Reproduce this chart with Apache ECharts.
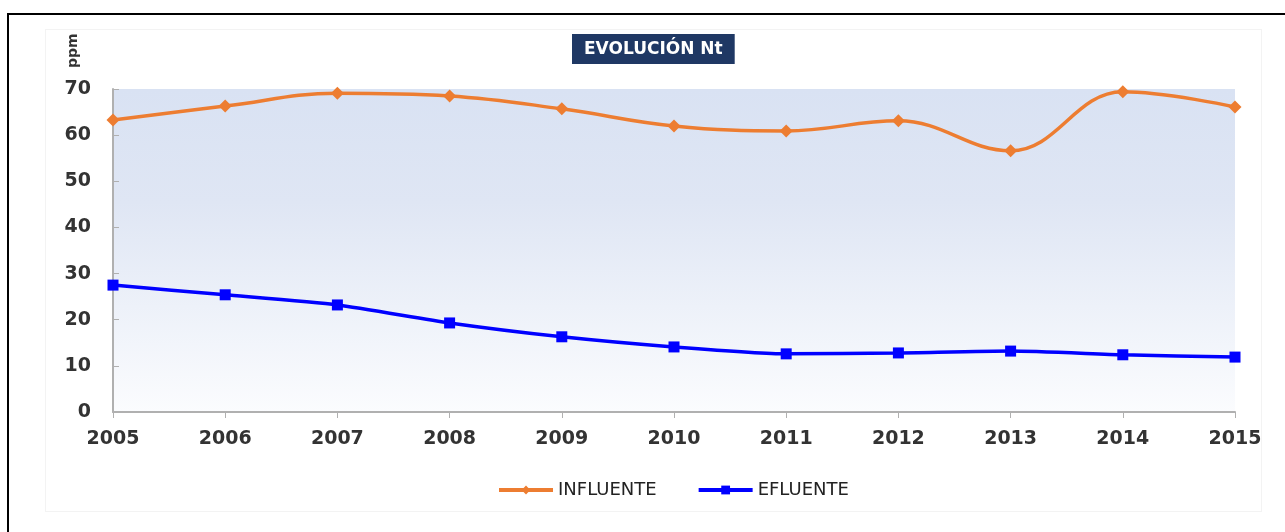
<!DOCTYPE html>
<html>
<head>
<meta charset="utf-8">
<script src="https://cdn.jsdelivr.net/npm/echarts@6/dist/echarts.min.js"></script>
<style>
  html, body { margin: 0; padding: 0; background: #fff; }
  #frame { position: absolute; left: 7px; top: 13px; width: 1290px; height: 530px;
           border-left: 2px solid #000; border-top: 2px solid #000; }
  #panel { position: absolute; left: 45px; top: 29px; width: 1215px; height: 481px;
           border: 1px solid #f3f3f3; }
  #chart { position: absolute; left: 0; top: 0; width: 1285px; height: 532px; }
</style>
</head>
<body>
<div id="frame"></div>
<div id="panel"></div>
<div id="chart"></div>
<script>
// años y valores
var years = ['2005', '2006', '2007', '2008', '2009', '2010', '2011', '2012', '2013', '2014', '2015'];
var influente = [63.3, 66.3, 69.1, 68.5, 65.7, 62.0, 60.9, 63.1, 56.6, 69.4, 66.1];
var efluente = [27.5, 25.4, 23.2, 19.3, 16.3, 14.1, 12.6, 12.8, 13.2, 12.4, 11.9];

var chart = echarts.init(document.getElementById('chart'), null, { renderer: 'canvas' });

var labelFont = { fontFamily: 'DejaVu Sans', fontWeight: 'bold', fontSize: 19, color: '#333' };

var option = {
  backgroundColor: 'transparent',
  animation: false,
  title: {
    text: 'EVOLUCIÓN Nt',
    left: 572,
    top: 34,
    backgroundColor: '#1f3864',
    padding: [6, 12, 5, 12],
    textStyle: { color: '#fff', fontFamily: 'DejaVu Sans', fontWeight: 'bold', fontSize: 17, lineHeight: 19 }
  },
  graphic: [{
    type: 'text',
    x: 66,
    y: 68,
    rotation: Math.PI / 2,
    style: { text: 'ppm', fill: '#333', fontFamily: 'DejaVu Sans', fontWeight: 'bold', fontSize: 14 }
  }],
  legend: {
    top: 481,
    left: 497,
    padding: 0,
    itemWidth: 54,
    itemHeight: 11,
    itemGap: 40,
    lineStyle: { width: 4 },
    textStyle: { fontFamily: 'DejaVu Sans', fontSize: 18, color: '#222' },
    data: ['INFLUENTE', 'EFLUENTE']
  },
  grid: {
    left: 113, right: 50, top: 89, bottom: 120,
    show: true,
    borderWidth: 0,
    backgroundColor: new echarts.graphic.LinearGradient(0, 0, 0, 1, [
      { offset: 0, color: '#d9e2f3' },
      { offset: 0.35, color: '#dfe6f4' },
      { offset: 1, color: '#fbfcfe' }
    ])
  },
  xAxis: {
    type: 'category',
    boundaryGap: false,
    data: years,
    axisLine: { lineStyle: { color: '#b0b0b0', width: 2 } },
    axisTick: { alignWithLabel: true, length: 6, lineStyle: { color: '#b0b0b0' } },
    axisLabel: Object.assign({ margin: 18 }, labelFont),
    splitLine: { show: false }
  },
  yAxis: {
    type: 'value',
    min: 0, max: 70, interval: 10,
    axisLine: { show: true, lineStyle: { color: '#b0b0b0', width: 2 } },
    axisTick: { show: true, inside: true, length: 6, lineStyle: { color: '#b0b0b0' } },
    axisLabel: Object.assign({ margin: 22 }, labelFont),
    splitLine: { show: false }
  },
  series: [
    {
      name: 'INFLUENTE',
      type: 'line',
      data: influente,
      smooth: 0.4,
      symbol: 'diamond',
      symbolSize: 13,
      itemStyle: { color: '#ed7d31' },
      lineStyle: { color: '#ed7d31', width: 3.5 }
    },
    {
      name: 'EFLUENTE',
      type: 'line',
      data: efluente,
      smooth: 0.2,
      symbol: 'rect',
      symbolSize: 11,
      itemStyle: { color: '#0000ff' },
      lineStyle: { color: '#0000ff', width: 3.5 }
    }
  ]
};

chart.setOption(option);
</script>
</body>
</html>
